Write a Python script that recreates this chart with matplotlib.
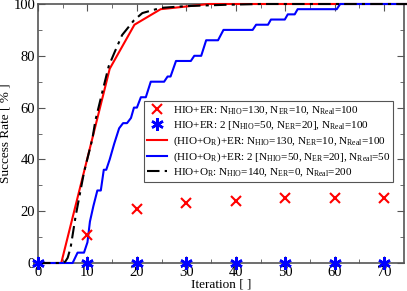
import matplotlib
matplotlib.use('Agg')
import matplotlib.pyplot as plt
from matplotlib.ticker import MultipleLocator

plt.rcParams['font.family'] = ['Liberation Serif', 'DejaVu Serif']
plt.rcParams['mathtext.fontset'] = 'custom'
plt.rcParams['mathtext.rm'] = 'Liberation Serif'

# HIO+ER markers
cross_it = [10, 20, 30, 40, 50, 60, 70]
cross_val = [11, 21, 23, 24, 25, 25, 25]

# HIO+ER: 2 [...] markers
star_it = [0, 10, 20, 30, 40, 50, 60, 70]
star_val = [0, 0, 0, 0, 0, 0, 0, 0]

# (HIO+O_R)+ER, N_Real=100
red_it = [0, 4.7, 14.5, 19.5, 24.8, 29.8, 34.5, 75]
red_val = [0, 0, 75, 92, 98, 99, 100, 100]

# (HIO+O_R)+ER: 2 [...], N_Real=50
blue_it = [0, 7, 8, 9.3, 10, 10.5, 11.2, 12, 12.7, 13.3, 13.8, 14.5, 15.4, 16.4,
           17.2, 18, 18.8, 19.4, 20, 20.8, 21.8, 22.8, 25.5, 26.2, 26.8, 27.9,
           30.9, 31.6, 33, 34, 36.4, 37.5, 43.4, 44.1, 46.5, 47.1, 49.9, 50.5,
           51.9, 52.5, 60.4, 61.1, 75]
blue_val = [0, 0, 4, 4, 8, 16, 22, 28, 28, 36, 36, 40, 46, 52,
            54, 54, 56, 60, 60, 64, 64, 70, 70, 72, 72, 78,
            78, 80, 80, 86, 86, 90, 90, 92, 92, 94, 94, 96,
            96, 98, 98, 100, 100]

# HIO+O_R, N_Real=200
black_it = [0, 5, 5.5, 6, 6.6, 7.6, 9.3, 11, 11.6, 13, 14.3, 15.4, 17, 19.4,
            21.1, 24.8, 30, 38, 45, 75]
black_val = [0, 0, 0.5, 2, 6, 18, 35, 48, 55, 66, 76, 81, 88, 93.7,
             96.5, 98.5, 99.2, 99.7, 100, 100]

labels = [
    r'HIO+ER: N$_\mathrm{HIO}$=130, N$_\mathrm{ER}$=10, N$_\mathrm{Real}$=100',
    r'HIO+ER: 2 [N$_\mathrm{HIO}$=50, N$_\mathrm{ER}$=20], N$_\mathrm{Real}$=100',
    r'(HIO+O$_\mathrm{R}$)+ER: N$_\mathrm{HIO}$=130, N$_\mathrm{ER}$=10, N$_\mathrm{Real}$=100',
    r'(HIO+O$_\mathrm{R}$)+ER: 2 [N$_\mathrm{HIO}$=50, N$_\mathrm{ER}$=20], N$_\mathrm{Real}$=50',
    r'HIO+O$_\mathrm{R}$: N$_\mathrm{HIO}$=140, N$_\mathrm{ER}$=0, N$_\mathrm{Real}$=200',
]

fig = plt.figure(figsize=(4.07, 2.91), dpi=100)
ax = fig.add_axes([38/407, 28/291, 366/407, 259/291])

ax.plot(cross_it, cross_val, ls='none', marker='x', color='red', ms=7.5, mew=1.5,
        label=labels[0], clip_on=False, zorder=4)
ax.plot(star_it, star_val, ls='none', marker=(6, 2, 0), color='blue', ms=9, mew=1.8,
        label=labels[1], clip_on=False, zorder=5)
ax.plot(red_it, red_val, color='red', lw=1.5, label=labels[2], clip_on=False, zorder=3)
ax.plot(blue_it, blue_val, color='blue', lw=1.5, label=labels[3], clip_on=False, zorder=3)
ax.plot(black_it, black_val, color='black', lw=1.5, ls=(0, (6, 2.5, 1.5, 2.5)),
        label=labels[4], clip_on=False, zorder=3)

ax.set_xlim(0, 74)
ax.set_ylim(0, 100)
ax.xaxis.set_major_locator(MultipleLocator(10))
ax.xaxis.set_minor_locator(MultipleLocator(5))
ax.yaxis.set_major_locator(MultipleLocator(20))
ax.yaxis.set_minor_locator(MultipleLocator(10))
ax.tick_params(which='both', direction='in', top=True, right=True, color='#555555',
               labelsize=10.5, pad=2)
ax.tick_params(which='major', length=5)
ax.tick_params(which='minor', length=3)
for s in ax.spines.values():
    s.set_color('#555555')
    s.set_linewidth(1.2)

ax.set_xlabel('Iteration [ ]', fontsize=9.5, labelpad=0)
ax.set_ylabel('Success Rate [ % ]', fontsize=9.5, labelpad=1)

leg = ax.legend(loc='lower left', bbox_to_anchor=(0.29, 0.313, 0.68, 0.305),
                mode='expand', fontsize=8, fancybox=False, framealpha=1,
                edgecolor='#555555', handlelength=1.8, handletextpad=0.5,
                borderpad=0.3, labelspacing=0.2, borderaxespad=0)
leg.get_frame().set_linewidth(0.8)

fig.savefig('out.png', dpi=100)
